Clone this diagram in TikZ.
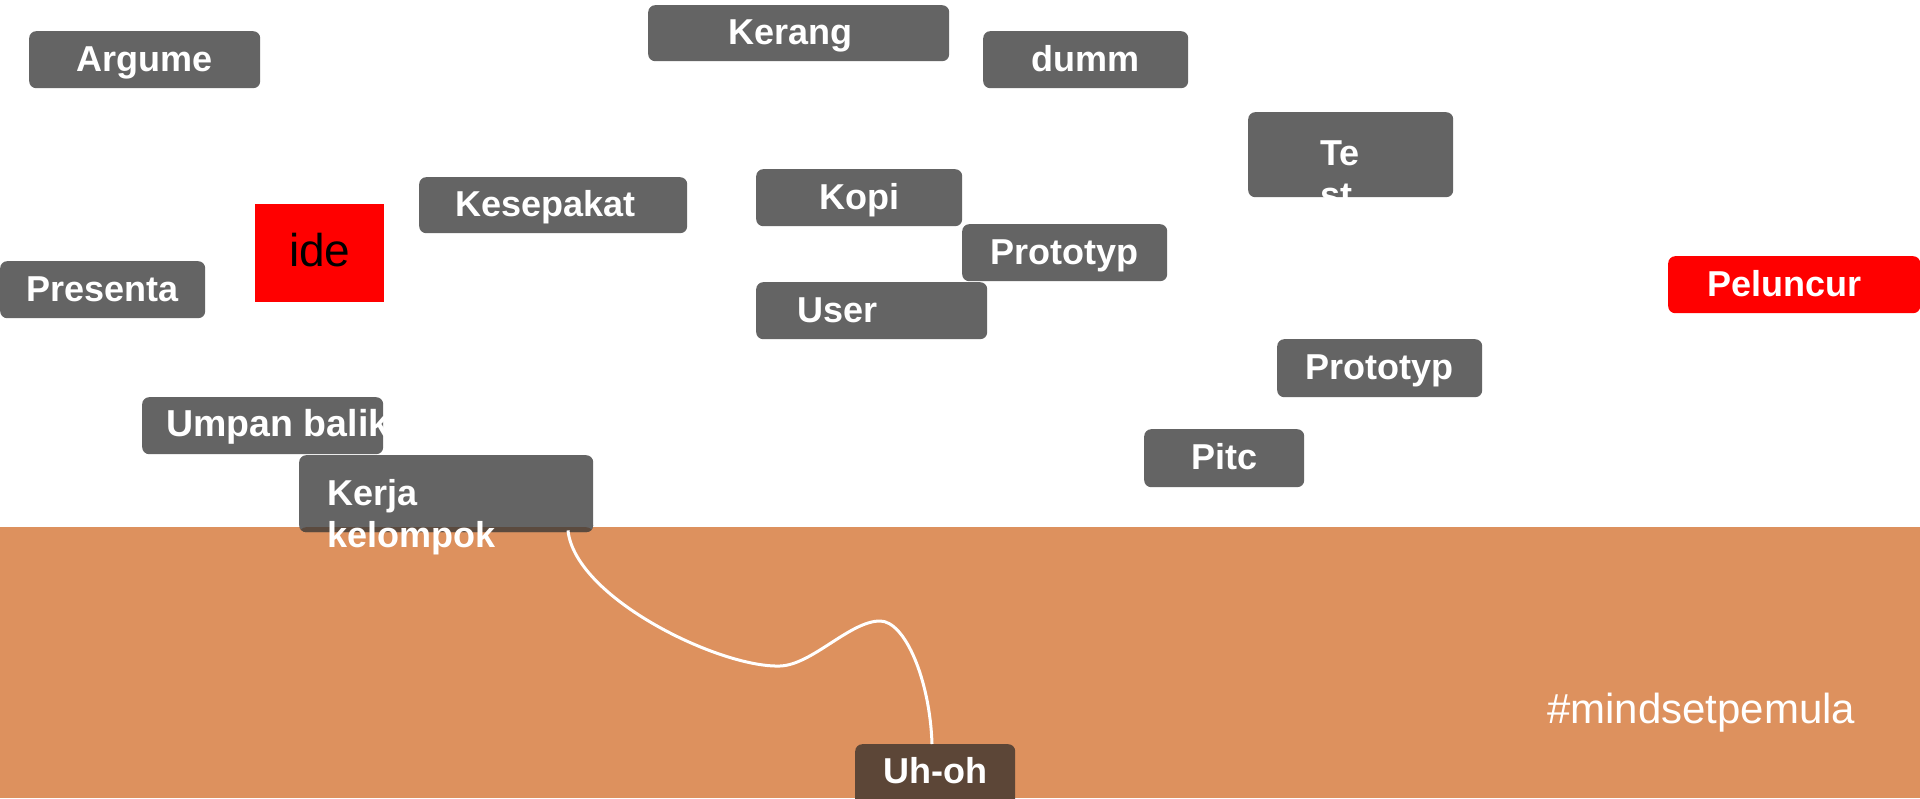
\documentclass[tikz,border=0pt]{standalone}
\usepackage{fontspec}
\setmainfont{Liberation Sans}
\usetikzlibrary{calc}
\definecolor{boxgray}{HTML}{646464}
\definecolor{bandorange}{HTML}{DD915E}
\definecolor{uhbrown}{HTML}{5C4637}
\definecolor{kerjadark}{HTML}{5B4A3E}
\definecolor{purered}{HTML}{FF0000}
\tikzset{
  gbox/.style={rectangle, rounded corners=7pt, fill=boxgray, text=white,
    font=\bfseries\fontsize{36}{42}\selectfont, inner sep=0pt,
    text height=27pt, text depth=4pt, anchor=north west},
  lbl/.style={rectangle, text=white, fill=none, font=\bfseries\fontsize{36}{42}\selectfont, inner sep=0pt,
    minimum width=0pt, minimum height=0pt},
  wire/.style={white, line width=3pt},
}
\begin{document}
\begin{tikzpicture}[x=1pt,y=-1pt]
\useasboundingbox (0,0) rectangle (1920,798);
\fill[white] (0,0) rectangle (1920,798);
\fill[bandorange] (0,527) rectangle (1920,798);

% grey boxes
\node[gbox, minimum width=231pt, minimum height=57pt] (argume) at (29,31) {Argume};
\node[gbox, text width=301pt, align=left, minimum height=56pt] (kerang) at (648,5) {\hspace*{80pt}Kerang};
\node[gbox, minimum width=205pt, minimum height=57pt] (dumm) at (983,31) {dumm};
\node[gbox, minimum width=205pt, minimum height=85pt,
  path picture={
    \node[lbl, anchor=base west] at ([xshift=72pt,yshift=-53pt]path picture bounding box.north west) {Te};
    \node[lbl, anchor=base west] at ([xshift=72pt,yshift=-95pt]path picture bounding box.north west) {st};
  }] (test) at (1248,112) {};
\node[gbox, text width=268pt, align=left, minimum height=56pt] (kesepakat) at (419,177) {\hspace*{36pt}Kesepakat};
\node[gbox, minimum width=206pt, minimum height=57pt] (kopi) at (756,169) {Kopi};
\node[gbox, minimum width=205pt, minimum height=57pt] (proto1) at (962,224) {Prototyp};
\node[gbox, text width=231pt, align=left, minimum height=57pt] (user) at (756,282) {\hspace*{41pt}User};
\node[gbox, minimum width=205pt, minimum height=57pt] (presenta) at (0,261) {Presenta};
\node[gbox, minimum width=205pt, minimum height=58pt] (proto2) at (1277,339) {Prototyp};
\node[gbox, minimum width=160pt, minimum height=58pt] (pitc) at (1144,429) {Pitc};
\node[gbox, minimum width=241pt, minimum height=57pt,
  path picture={
    \node[lbl, anchor=base west] at ([xshift=24pt,yshift=-39pt]path picture bounding box.north west) {\fontsize{37.5}{42}\selectfont Umpan balik};
  }] (umpan) at (142,397) {};
\node[gbox, minimum width=294pt, minimum height=77pt,
  path picture={
    \fill[kerjadark] (path picture bounding box.south west) rectangle ([yshift=5pt]path picture bounding box.south east);
  }] (kerja) at (299,455) {};
\node[lbl, align=left, anchor=north west] (kerjalbl) at (327,479) {Kerja\\kelompok};

% red boxes
\node[fill=purered, anchor=north west, inner sep=0pt, minimum width=129pt, minimum height=98pt,
  font=\fontsize{46}{50}\selectfont, text height=33pt, text depth=7pt] (ide) at (255,204) {ide};
\node[gbox, fill=purered, text width=252pt, align=left, minimum height=57pt] (peluncur) at (1668,256) {\hspace*{39pt}Peluncur};

% Uh-oh
\node[gbox, fill=uhbrown, minimum width=160pt, minimum height=66pt, text height=20pt, text depth=8pt] (uhoh) at (855,744) {Uh-oh};

% connector
\coordinate (kstart) at ($(kerja.south west)+(269,-2)$);
\coordinate (uend) at ($(uhoh.north west)+(77,0)$);
\draw[wire] (kstart) .. controls (575,598) and (720,668) .. (780,666)
  .. controls (812,665) and (850,621) .. (880,621)
  .. controls (905,621) and (930,680) .. (uend);

% hashtag
\node[text=white, font=\fontsize{42}{48}\selectfont, anchor=base west, inner sep=0pt] (tag) at (1547,723) {\#mindsetpemula};
\end{tikzpicture}
\end{document}
